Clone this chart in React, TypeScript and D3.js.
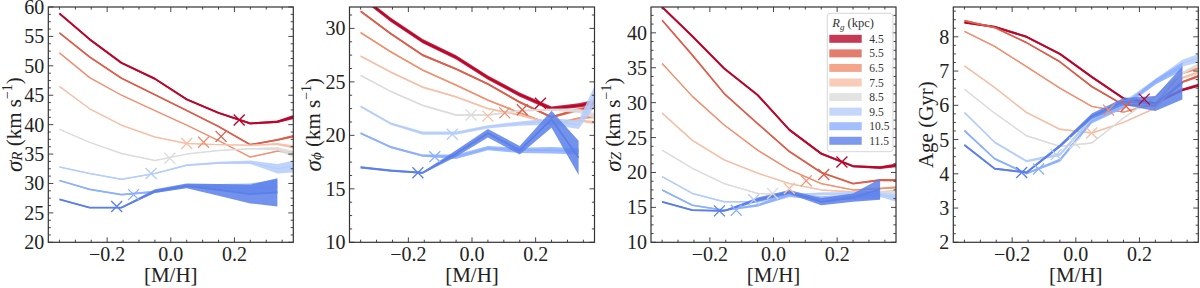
import * as d3 from "d3";
import React from "react";

// guiding radius bins and colours (coolwarm, reversed)
const rgLabels = ["4.5", "5.5", "6.5", "7.5", "8.5", "9.5", "10.5", "11.5"];
const rgColors = ["#b8072b", "#dc5d4a", "#f0906f", "#f6bfa6", "#dcdcdc", "#b5cdfa", "#8caffe", "#5b7fe8"];

// [M/H] bin centres, and mean [M/H] of each R_g bin (cross markers)
const mhBins = [-0.35, -0.255, -0.155, -0.05, 0.05, 0.15, 0.25, 0.335, 0.43];
const mhMean = [0.215, 0.158, 0.103, 0.05, -0.003, -0.062, -0.117, -0.17];

const xTicks = [-0.2, 0.0, 0.2];

// sigma_R
const sigmaR = [
  [58.9, 54.5, 50.5, 47.8, 44.3, 42.0, 40.2, 40.5, 42.0],
  [55.6, 51.5, 47.9, 45.1, 42.4, 39.7, 36.6, 37.4, 38.6],
  [52.2, 48.0, 45.0, 42.4, 39.9, 37.3, 34.5, 35.5, 35.0],
  [46.5, 42.7, 39.9, 37.9, 36.8, 36.6, 36.5, 36.7, 35.8],
  [39.2, 37.0, 35.1, 33.9, 35.0, 35.6, 35.9, 35.9, 34.2],
  [32.8, 31.7, 30.7, 31.7, 33.1, 33.5, 33.6, 32.5, 33.2],
  [30.5, 29.0, 28.1, 28.6, 29.6, 29.4, 29.2, 29.5],
  [27.3, 25.9, 25.9, 28.7, 29.6, 28.9, 28.2, 28.5],
];
const sigmaRErr = [
  [0.15, 0.15, 0.15, 0.15, 0.15, 0.15, 0.15, 0.2, 0.5],
  [0.1, 0.1, 0.1, 0.1, 0.1, 0.1, 0.1, 0.15, 0.3],
  [0.05, 0.05, 0.05, 0.05, 0.05, 0.05, 0.05, 0.1, 0.3],
  [0.05, 0.05, 0.05, 0.05, 0.05, 0.05, 0.05, 0.2, 0.4],
  [0.05, 0.05, 0.05, 0.05, 0.05, 0.05, 0.1, 0.3, 0.8],
  [0.1, 0.1, 0.1, 0.1, 0.15, 0.2, 0.3, 0.8, 1.2],
  [0.1, 0.1, 0.1, 0.2, 0.3, 0.5, 0.8, 1.2],
  [0.1, 0.1, 0.1, 0.3, 0.4, 1.0, 1.6, 2.4],
];
const sigmaRCross = [40.8, 38.0, 37.0, 36.8, 34.3, 31.7, 28.1, 26.1];

// sigma_phi
const sigmaPhi = [
  [33.0, 30.8, 28.8, 27.3, 25.4, 23.8, 22.5, 22.8, 23.3],
  [31.6, 29.5, 27.5, 26.2, 24.8, 23.1, 21.7, 22.4, 22.9],
  [29.6, 27.8, 26.1, 24.7, 23.3, 22.1, 21.0, 21.6, 21.9],
  [27.4, 25.9, 24.5, 23.6, 22.5, 21.9, 21.1, 21.4, 21.0],
  [25.6, 24.1, 22.8, 21.9, 21.9, 22.3, 22.4, 22.3, 21.4],
  [22.7, 21.1, 20.2, 20.2, 20.8, 21.1, 21.3, 21.0, 26.0],
  [20.2, 18.9, 18.1, 18.0, 18.8, 18.6, 18.6, 18.5],
  [17.0, 16.7, 16.5, 18.3, 20.2, 18.6, 21.5, 17.9],
];
const sigmaPhiErr = [
  [0.2, 0.2, 0.2, 0.2, 0.2, 0.2, 0.2, 0.2, 0.3],
  [0.1, 0.1, 0.1, 0.1, 0.1, 0.1, 0.1, 0.15, 0.2],
  [0.08, 0.08, 0.08, 0.08, 0.08, 0.08, 0.08, 0.1, 0.2],
  [0.08, 0.08, 0.08, 0.08, 0.08, 0.08, 0.08, 0.1, 0.2],
  [0.08, 0.08, 0.08, 0.08, 0.08, 0.08, 0.1, 0.2, 0.3],
  [0.1, 0.1, 0.15, 0.15, 0.15, 0.2, 0.3, 0.4, 1.5],
  [0.1, 0.1, 0.1, 0.2, 0.2, 0.25, 0.3, 0.3],
  [0.1, 0.1, 0.1, 0.3, 0.4, 0.4, 0.8, 1.6],
];
const sigmaPhiCross = [23.0, 22.4, 22.1, 21.8, 21.9, 20.1, 18.0, 16.5];

// sigma_Z
const sigmaZ = [
  [43.7, 39.5, 34.9, 31.1, 26.1, 22.7, 20.9, 20.7, 21.3],
  [41.8, 36.8, 31.3, 27.0, 23.0, 20.0, 18.4, 18.9, 18.9],
  [35.6, 30.9, 26.8, 23.2, 20.4, 18.4, 17.5, 17.7, 18.0],
  [28.5, 24.6, 21.8, 19.9, 18.4, 17.5, 17.2, 17.2, 17.5],
  [23.2, 20.6, 18.4, 17.0, 16.8, 16.8, 17.0, 17.2, 17.2],
  [19.4, 17.0, 15.8, 15.8, 16.8, 17.0, 17.0, 16.8, 16.0],
  [17.5, 15.3, 14.6, 15.3, 16.8, 16.3, 16.5, 16.8],
  [15.8, 14.6, 14.5, 16.1, 17.2, 15.8, 16.4, 17.6],
];
const sigmaZErr = [
  [0.15, 0.15, 0.15, 0.15, 0.15, 0.15, 0.15, 0.2, 0.3],
  [0.1, 0.1, 0.1, 0.1, 0.1, 0.1, 0.1, 0.15, 0.2],
  [0.08, 0.08, 0.08, 0.08, 0.08, 0.08, 0.08, 0.1, 0.2],
  [0.08, 0.08, 0.08, 0.08, 0.08, 0.08, 0.08, 0.1, 0.2],
  [0.08, 0.08, 0.08, 0.08, 0.08, 0.08, 0.1, 0.2, 0.3],
  [0.1, 0.1, 0.1, 0.1, 0.15, 0.15, 0.2, 0.3, 0.8],
  [0.1, 0.1, 0.1, 0.2, 0.3, 0.3, 0.4, 0.6],
  [0.1, 0.1, 0.1, 0.3, 0.3, 0.5, 0.6, 1.5],
];
const sigmaZCross = [21.5, 19.7, 18.8, 17.7, 17.0, 16.1, 14.6, 14.5];

// age
const age = [
  [8.42, 8.29, 8.0, 7.5, 6.83, 6.2, 6.06, 6.45, 6.7],
  [8.47, 8.27, 7.83, 7.27, 6.55, 6.01, 5.98, 6.68, 7.0],
  [8.16, 7.72, 7.13, 6.5, 5.97, 5.8, 6.06, 6.94, 7.2],
  [7.15, 6.52, 5.79, 5.3, 5.19, 5.5, 5.92, 6.8, 7.1],
  [6.47, 5.77, 5.11, 4.8, 4.9, 5.63, 6.26, 6.94, 7.4],
  [5.79, 4.92, 4.37, 4.56, 5.62, 6.06, 6.69, 7.23, 7.5],
  [5.26, 4.44, 4.01, 4.4, 5.53, 5.97, 6.69, 7.13],
  [4.84, 4.15, 4.04, 4.81, 5.68, 6.11, 6.05, 6.65],
];
const ageErr = [
  [0.03, 0.03, 0.03, 0.03, 0.03, 0.03, 0.03, 0.04, 0.05],
  [0.02, 0.02, 0.02, 0.02, 0.02, 0.02, 0.02, 0.03, 0.05],
  [0.02, 0.02, 0.02, 0.02, 0.02, 0.02, 0.02, 0.03, 0.05],
  [0.02, 0.02, 0.02, 0.02, 0.02, 0.02, 0.02, 0.03, 0.05],
  [0.02, 0.02, 0.02, 0.02, 0.02, 0.02, 0.03, 0.04, 0.06],
  [0.03, 0.03, 0.03, 0.05, 0.05, 0.05, 0.08, 0.1, 0.15],
  [0.03, 0.03, 0.03, 0.05, 0.06, 0.06, 0.08, 0.12],
  [0.03, 0.03, 0.03, 0.05, 0.08, 0.1, 0.22, 0.48],
];
const ageCross = [6.18, 5.97, 5.86, 5.19, 4.9, 4.56, 4.14, 4.04];

const FONT = "'Liberation Serif', 'Times New Roman', serif";
const AXIS = "#333";
const lineWidths = [2.0, 1.7, 1.4, 1.4, 1.4, 1.5, 1.6, 1.8];

const PANEL_TOP = 7;
const PANEL_H = 235.3;
const PANEL_W = 245;

const panels = [
  { key: "R", left: 48.3, values: sigmaR, errs: sigmaRErr, cross: sigmaRCross, domain: [20, 60], step: 5, labelOff: 34 },
  { key: "phi", left: 349.5, values: sigmaPhi, errs: sigmaPhiErr, cross: sigmaPhiCross, domain: [10, 32], step: 5, labelOff: 37 },
  { key: "Z", left: 651, values: sigmaZ, errs: sigmaZErr, cross: sigmaZCross, domain: [10, 43.7], step: 5, labelOff: 38 },
  { key: "age", left: 953.3, values: age, errs: ageErr, cross: ageCross, domain: [2, 8.87], step: 1, labelOff: 27 },
];

const YLabel = ({ kind }) => {
  if (kind === "age") {
    return <tspan>Age (Gyr)</tspan>;
  }
  const sub = kind === "R" ? "R" : kind === "Z" ? "Z" : "ϕ";
  return (
    <>
      <tspan fontStyle="italic" fontSize="23">σ</tspan>
      <tspan fontStyle="italic" fontSize="15" dy="3">{sub}</tspan>
      <tspan dy="-3"> (km s</tspan>
      <tspan fontSize="14" dy="-7">−1</tspan>
      <tspan dy="7">)</tspan>
    </>
  );
};

const Legend = () => {
  const left = 176.3;
  const top = 6.3;
  const rowH = 14.57;
  return (
    <g fontFamily={FONT} fontSize={11.5} fill="#333">
      <rect x={left} y={top} width={65.7} height={138.4} rx={3} fill="white" fillOpacity={0.85} stroke="#ccc" strokeWidth={0.8} />
      <text x={left + 5} y={top + 14} fontSize={12.5}>
        <tspan fontStyle="italic">R</tspan>
        <tspan fontStyle="italic" fontSize={9} dy={3}>g</tspan>
        <tspan dy={-3}> (kpc)</tspan>
      </text>
      {rgLabels.map((lab, i) => {
        const cy = top + 25.5 + i * rowH;
        return (
          <g key={lab}>
            <rect x={left + 2} y={cy - 4} width={32.4} height={8} fill={rgColors[i]} fillOpacity={0.8} />
            <text x={left + 42} y={cy + 4}>
              {lab}
            </text>
          </g>
        );
      })}
    </g>
  );
};

const Panel = ({ cfg }) => {
  const x = d3.scaleLinear().domain([-0.385, 0.385]).range([0, PANEL_W]);
  const y = d3.scaleLinear().domain(cfg.domain).range([PANEL_H, 0]);
  const clipId = `clip-${cfg.key}`;

  const yMajor = d3.range(cfg.domain[0], cfg.domain[1] + 1e-6, cfg.step);
  const yMinor = d3
    .range(cfg.domain[0], cfg.domain[1] + 1e-6, cfg.step / 4)
    .filter((v) => Math.abs(v / cfg.step - Math.round(v / cfg.step)) > 1e-6);
  const xMinor = d3
    .range(-0.35, 0.36, 0.05)
    .filter((v) => Math.abs(v / 0.2 - Math.round(v / 0.2)) > 1e-6);

  const area = d3
    .area()
    .x((d) => x(d[0]))
    .y0((d) => y(d[1] - d[2]))
    .y1((d) => y(d[1] + d[2]));
  const line = d3
    .line()
    .x((d) => x(d[0]))
    .y((d) => y(d[1]));

  const xfmt = (v) => (v < 0 ? `−${Math.abs(v).toFixed(1)}` : v.toFixed(1));
  const cs = 5.5;

  return (
    <g transform={`translate(${cfg.left},${PANEL_TOP})`}>
      <defs>
        <clipPath id={clipId}>
          <rect x={0} y={0} width={PANEL_W} height={PANEL_H} />
        </clipPath>
      </defs>
      <g clipPath={`url(#${clipId})`}>
        {cfg.values.map((vals, i) => {
          const pts = vals.map((v, j) => [mhBins[j], v, cfg.errs[i][j]]);
          return (
            <g key={i}>
              <path d={area(pts)} fill={rgColors[i]} fillOpacity={0.85} />
              <path d={line(pts)} fill="none" stroke={rgColors[i]} strokeWidth={lineWidths[i]} strokeLinejoin="round" />
            </g>
          );
        })}
        {cfg.cross.map((v, i) => {
          const cx = x(mhMean[i]);
          const cy = y(v);
          return (
            <path
              key={`c${i}`}
              d={`M${cx - cs},${cy - cs}L${cx + cs},${cy + cs}M${cx - cs},${cy + cs}L${cx + cs},${cy - cs}`}
              stroke={rgColors[i]}
              strokeWidth={1.3}
            />
          );
        })}
      </g>

      {/* ticks, inward on all sides */}
      <g stroke={AXIS} strokeWidth={0.9}>
        {yMajor.map((v) => (
          <g key={`ym${v}`}>
            <line x1={0} x2={5} y1={y(v)} y2={y(v)} />
            <line x1={PANEL_W} x2={PANEL_W - 5} y1={y(v)} y2={y(v)} />
          </g>
        ))}
        {yMinor.map((v) => (
          <g key={`yn${v}`}>
            <line x1={0} x2={2.6} y1={y(v)} y2={y(v)} />
            <line x1={PANEL_W} x2={PANEL_W - 2.6} y1={y(v)} y2={y(v)} />
          </g>
        ))}
        {xTicks.map((v) => (
          <g key={`xm${v}`}>
            <line x1={x(v)} x2={x(v)} y1={PANEL_H} y2={PANEL_H - 5} />
            <line x1={x(v)} x2={x(v)} y1={0} y2={5} />
          </g>
        ))}
        {xMinor.map((v) => (
          <g key={`xn${v}`}>
            <line x1={x(v)} x2={x(v)} y1={PANEL_H} y2={PANEL_H - 2.6} />
            <line x1={x(v)} x2={x(v)} y1={0} y2={2.6} />
          </g>
        ))}
      </g>
      <rect x={0} y={0} width={PANEL_W} height={PANEL_H} fill="none" stroke={AXIS} strokeWidth={1.2} />

      <g fontFamily={FONT} fontSize={20} fill="#222">
        {yMajor.map((v) => (
          <text key={`yl${v}`} x={-4} y={y(v)} textAnchor="end" dominantBaseline="central">
            {`${v}`}
          </text>
        ))}
        {xTicks.map((v) => (
          <text key={`xl${v}`} x={x(v)} y={PANEL_H + 19} textAnchor="middle">
            {xfmt(v)}
          </text>
        ))}
        <text x={x(0)} y={PANEL_H + 40} textAnchor="middle" fontSize={21}>
          [M/H]
        </text>
        <text
          transform={`translate(${-cfg.labelOff},${PANEL_H / 2}) rotate(-90)`}
          textAnchor="middle"
          dominantBaseline="central"
          fontSize={21}
        >
          <YLabel kind={cfg.key} />
        </text>
      </g>

      {cfg.key === "Z" && <Legend />}
    </g>
  );
};

export default function App() {
  return (
    <svg width={1200} height={288} style={{ display: "block", position: "absolute", left: 0, top: 0, background: "white" }}>
      {panels.map((p) => (
        <Panel key={p.key} cfg={p} />
      ))}
    </svg>
  );
}
